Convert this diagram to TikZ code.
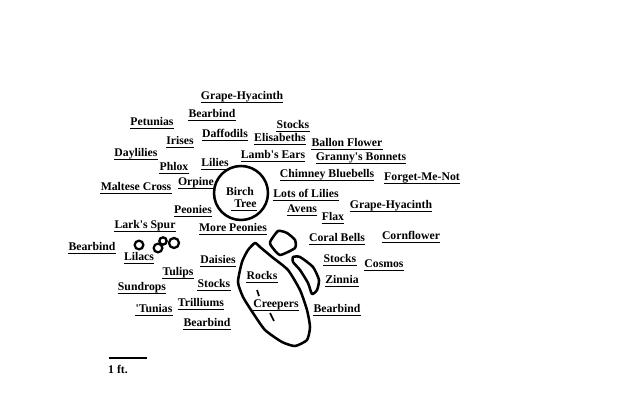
\documentclass[tikz,border=0pt]{standalone}
\usepackage{fontspec}
\setmainfont{Liberation Serif}
\tikzset{
  plant/.style={
    inner sep=0pt, font=\fontsize{8.8}{10}\selectfont\bfseries,
    text height=5.8pt, text depth=2.2pt,
    append after command={
      (\tikzlastnode.south west) edge[line width=0.9pt] (\tikzlastnode.south east)
    }
  },
  plain/.style={inner sep=0pt, font=\fontsize{8.8}{10}\selectfont\bfseries},
  bed/.style={draw, line width=1.9pt, line join=round},
  shrub/.style={draw, circle, line width=1.7pt, fill=none},
}
\begin{document}
\begin{tikzpicture}[x=0.75pt, y=-0.75pt]
  \useasboundingbox (0,0) rectangle (640,410);

  % Tree
  \node[circle, draw, line width=1.9pt, minimum size=40.5pt, inner sep=0pt] (birch) at (241,193) {};
  \node[plain] (birchlabel) at (240,191) {Birch};
  \node[plant] (treelabel) at (244,205) {\ Tree};

  % Top
  \node[plant] (grape1) at (242,97) {Grape-Hyacinth};
  \node[plant] (bearbind1) at (212,115) {Bearbind};
  \node[plant] (petunias) at (152,123) {Petunias};
  \node[plant] (stocks1) at (293,126) {Stocks};
  \node[plant] (irises) at (180,142) {Irises};
  \node[plant] (daffodils) at (225,135) {Daffodils};
  \node[plant] (elisabeths) at (280,139) {Elisabeths};
  \node[plant] (ballon) at (347,144) {Ballon Flower};
  \node[plant] (daylilies) at (136,154) {Daylilies};
  \node[plant] (grannys) at (361,158) {Granny\textquotesingle s Bonnets};
  \node[plant] (lambs) at (273,156) {Lamb\textquotesingle s Ears};
  \node[plant] (lilies) at (215,164) {Lilies};
  \node[plant] (phlox) at (174,168) {Phlox};

  % Middle
  \node[plant] (chimney) at (327,175) {Chimney Bluebells};
  \node[plant] (forget) at (422,178) {Forget-Me-Not};
  \node[plant] (orpine) at (196,183) {Orpine};
  \node[plant] (maltese) at (136,188) {Maltese Cross};
  \node[plant] (lots) at (306,195) {Lots of Lilies};
  \node[plant] (peonies) at (193,211) {Peonies};
  \node[plant] (avens) at (302,210) {Avens};
  \node[plant] (grape2) at (391,206) {Grape-Hyacinth};
  \node[plant] (flax) at (333,218) {Flax};
  \node[plant] (larks) at (145,226) {Lark\textquotesingle s Spur};
  \node[plant] (more) at (233,229) {More Peonies};
  \node[plant] (coral) at (337,239) {Coral Bells};
  \node[plant] (cornflower) at (411,237) {Cornflower};
  \node[plant] (bearbind2) at (92,248) {Bearbind};
  \node[plant] (lilacs) at (139,258) {Lilacs};

  % Bottom
  \node[plant] (daisies) at (218,261) {Daisies};
  \node[plant] (stocks2) at (340,260) {Stocks};
  \node[plant] (cosmos) at (384,265) {Cosmos};
  \node[plant] (rocks) at (262,277) {Rocks};
  \node[plant] (tulips) at (178,273) {Tulips};
  \node[plant] (zinnia) at (342,281) {Zinnia};
  \node[plant] (stocks3) at (214,285) {Stocks};
  \node[plant] (sundrops) at (142,288) {Sundrops};
  \node[plant] (trilliums) at (201,304) {Trilliums};
  \node[plant] (creepers) at (276,305) {Creepers};
  \node[plant] (bearbind3) at (337,310) {Bearbind};
  \node[plant] (tunias) at (154,310) {\textquotesingle Tunias};
  \node[plant] (bearbind4) at (207,324) {Bearbind};

  % Lilac shrubs
  \node[shrub, minimum size=6.5pt, inner sep=0pt] (lilac1) at (139,245) {};
  \node[shrub, minimum size=6.5pt, inner sep=0pt] (lilac2) at (158,248) {};
  \node[shrub, minimum size=5.5pt, inner sep=0pt] (lilac3) at (163,241) {};
  \node[shrub, minimum size=7.5pt, inner sep=0pt] (lilac4) at (174,243) {};

  % Beds
  \draw[bed] plot[smooth cycle, tension=0.35] coordinates {
    (255,243) (248,250) (242,262) (238,282) (243,297) (253,313) (265,330)
    (282,342) (295,346) (307,340) (310,327) (307,310) (300,290) (288,270)
    (272,257) (260,247)};
  \draw[bed] plot[smooth cycle, tension=0.35] coordinates {
    (278,231) (270,242) (272,247) (280,255) (295,248) (295,240) (287,233)};
  \draw[bed] plot[smooth cycle, tension=0.35] coordinates {
    (293,257) (300,257) (313,267) (319,280) (317,290) (312,294) (308,283)
    (300,270) (293,262)};
  \coordinate (tick1a) at (257,290);
  \coordinate (tick1b) at (259,296);
  \coordinate (tick2a) at (270,313);
  \coordinate (tick2b) at (274,321);
  \draw[line width=1.2pt] (tick1a) -- (tick1b);
  \draw[line width=1.2pt] (tick2a) -- (tick2b);

  % Scale
  \coordinate (scalea) at (109,358);
  \coordinate (scaleb) at (147,358);
  \draw[line width=1.4pt] (scalea) -- (scaleb);
  \node[plain] (scalelabel) at (118,369) {1 ft.};
\end{tikzpicture}
\end{document}
